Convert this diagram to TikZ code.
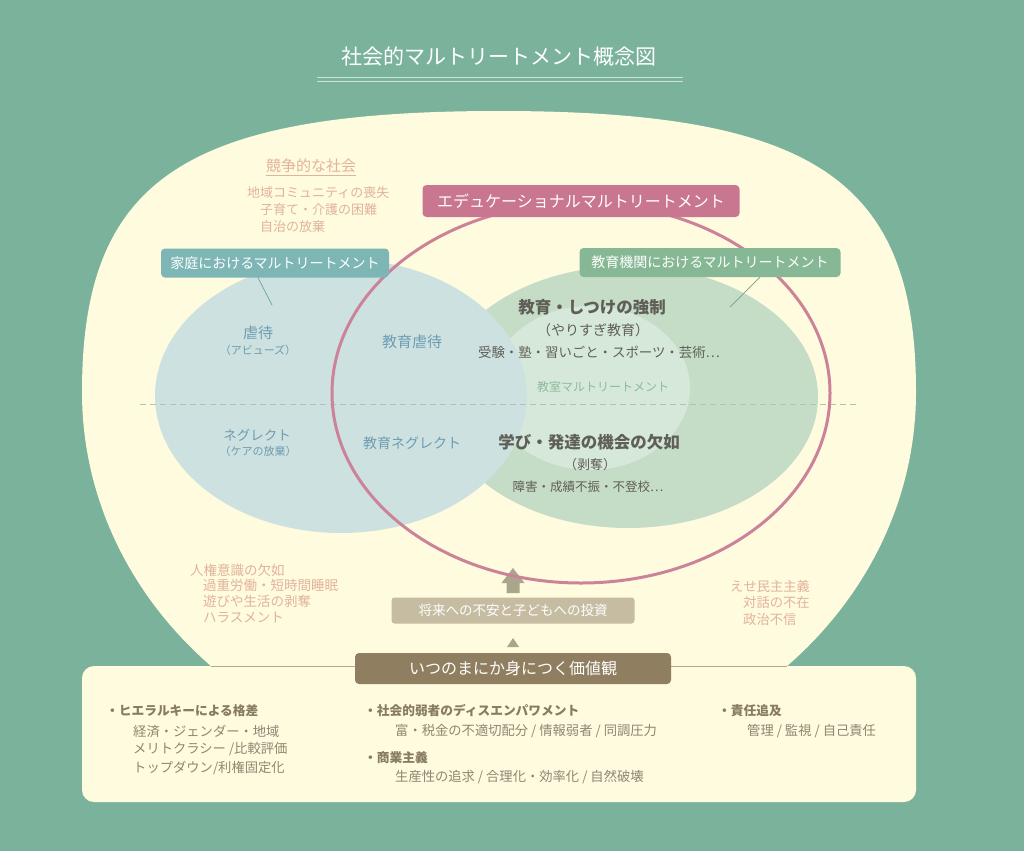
\documentclass[tikz,border=0pt]{standalone}
\usepackage{fontspec}
\setmainfont{Noto Sans CJK JP}
\definecolor{bgc}{HTML}{7AB29C}
\definecolor{cream}{HTML}{FEFBDF}
\definecolor{bluefill}{HTML}{CDE2E0}
\definecolor{greenfill}{HTML}{C5DCC7}
\definecolor{lightgreen}{HTML}{D6E8D9}
\definecolor{pinkline}{HTML}{CC8399}
\definecolor{teallab}{HTML}{7DB6B5}
\definecolor{pinklab}{HTML}{C97790}
\definecolor{greenlab}{HTML}{87B896}
\definecolor{salmon}{HTML}{E2B39B}
\definecolor{bluetext}{HTML}{6E9BB2}
\definecolor{darktext}{HTML}{5F5F57}
\definecolor{greentext}{HTML}{8DBB9C}
\definecolor{beigebox}{HTML}{C6BCA2}
\definecolor{brownbox}{HTML}{8F7E60}
\definecolor{arrowc}{HTML}{A9A68C}
\definecolor{headc}{HTML}{877B62}
\definecolor{subc}{HTML}{8E8773}
\definecolor{titleline}{HTML}{C9E3D5}
\definecolor{dashc}{HTML}{B9BEB4}
\definecolor{sepline}{HTML}{B3A88A}
\tikzset{
  fs/.style={font=\fontsize{#1}{#1}\selectfont},
  label box/.style={rounded corners=4pt, inner sep=0pt, text=white},
  plain/.style={inner sep=0pt},
  salmontext/.style={plain, text=salmon, fs=13.5, anchor=west},
  bluelab/.style={plain, text=bluetext},
  darklab/.style={plain, text=darktext},
  headtext/.style={plain, text=headc, anchor=west, font=\fontsize{12.7}{12.7}\selectfont\bfseries},
  subtext/.style={plain, text=subc, anchor=west, fs=13.3},
}
\begin{document}
\begin{tikzpicture}[x=1pt,y=-1pt]
\useasboundingbox (0,0) rectangle (1024,851);
\fill[bgc] (0,0) rectangle (1024,851);

% title
\node[plain, text=white, fs=21] (title) at (499,57) {社会的マルトリートメント概念図};
\draw[titleline, line width=0.8pt] (317,77.5) -- (683,77.5);
\draw[titleline, line width=0.8pt] (317,81) -- (683,81);

% big cream shape (squarish top, elliptic bottom)
\fill[cream] (82,392) .. controls (82,180) and (183.3,111) .. (499,111)
  .. controls (814.7,111) and (916,180) .. (916,392)
  .. controls (916,601.3) and (729.3,771) .. (499,771)
  .. controls (268.7,771) and (82,601.3) .. (82,392) -- cycle;

% bottom box
\fill[cream, rounded corners=12pt] (82,666) rectangle (916,802);
\draw[sepline, line width=0.7pt] (211,666) -- (787,666);

% ellipses
\fill[greenfill] (628,397) ellipse [x radius=190pt, y radius=131pt];
\fill[lightgreen] (590,388) ellipse [x radius=100pt, y radius=82pt];
\fill[bluefill] (341,396) ellipse [x radius=186pt, y radius=137pt];

\draw[dashc, line width=0.8pt, dash pattern=on 6pt off 4pt] (140,404) -- (858,404);

% big arrow
\fill[arrowc] (513,568) -- (524.5,583) -- (519.5,583) -- (519.5,593) -- (506.5,593) -- (506.5,583) -- (501.5,583) -- cycle;

% pink ellipse
\draw[pinkline, line width=3pt] (581,393) ellipse [x radius=249pt, y radius=190pt];

% society texts
\node[plain, text=salmon, fs=15] (kyoso) at (311,166) {競争的な社会};
\draw[salmon, line width=0.8pt] ([yshift=-2pt]kyoso.south west) -- ([yshift=-2pt]kyoso.south east);
\node[salmontext, fs=13] (s1) at (247,193) {地域コミュニティの喪失};
\node[salmontext, fs=13] (s2) at (260,210) {子育て・介護の困難};
\node[salmontext, fs=13] (s3) at (260,227) {自治の放棄};

\node[salmontext] (h1) at (190,570) {人権意識の欠如};
\node[salmontext] (h2) at (203,585) {過重労働・短時間睡眠};
\node[salmontext] (h3) at (203,601) {遊びや生活の剥奪};
\node[salmontext] (h4) at (203,618) {ハラスメント};

\node[salmontext, fs=13.3] (d1) at (730,586) {えせ民主主義};
\node[salmontext, fs=13.3] (d2) at (743,602) {対話の不在};
\node[salmontext, fs=13.3] (d3) at (743,619) {政治不信};

% labels
\node[label box, fill=teallab, minimum width=228pt, minimum height=29pt, fs=14] (famlabel) at (275,263) {家庭におけるマルトリートメント};
\node[label box, fill=pinklab, minimum width=317pt, minimum height=32pt, fs=16] (edumal) at (581,201) {エデュケーショナルマルトリートメント};
\node[label box, fill=greenlab, minimum width=261pt, minimum height=29pt, fs=14] (schlabel) at (710,262.5) {教育機関におけるマルトリートメント};
\coordinate (famtip) at (272,305);
\coordinate (schtip) at (730,307);
\draw[teallab!80!black!60!teallab, line width=0.7pt] ([xshift=-17pt]famlabel.south) -- (famtip);
\draw[greenlab!80!black!60!greenlab, line width=0.7pt] ([xshift=50pt]schlabel.south) -- (schtip);

% blue texts
\node[bluelab, fs=15] (gyaku) at (258,333) {虐待};
\node[bluelab, fs=11] (abuse) at (258,350) {（アビューズ）};
\node[bluelab, fs=15] (edugyaku) at (412,342) {教育虐待};
\node[bluelab, fs=13.5] (neglect) at (257,435) {ネグレクト};
\node[bluelab, fs=11] (care) at (258,451) {（ケアの放棄）};
\node[bluelab, fs=14] (eduneg) at (412,443) {教育ネグレクト};

% green texts
\node[darklab, font=\fontsize{16.5}{16.5}\selectfont\bfseries] (kyosei) at (592,307) {教育・しつけの強制};
\node[darklab, fs=14] (yari) at (593,330) {（やりすぎ教育）};
\node[darklab, fs=13.4] (juken) at (599,352) {受験・塾・習いごと・スポーツ・芸術…};
\node[plain, text=greentext, fs=12] (kyoshitsu) at (603,387) {教室マルトリートメント};
\node[darklab, font=\fontsize{16.5}{16.5}\selectfont\bfseries] (manabi) at (589,442) {学び・発達の機会の欠如};
\node[darklab, fs=13] (hakudatsu) at (590,465) {（剥奪）};
\node[darklab, fs=12.5] (shogai) at (588,487) {障害・成績不振・不登校…};

% value boxes
\node[label box, rounded corners=3pt, fill=beigebox, minimum width=243pt, minimum height=26pt, fs=13.5] (invest) at (513,610.5) {将来への不安と子どもへの投資};
\fill[arrowc] (507,647) -- (519,647) -- (513,638) -- cycle;
\node[label box, fill=brownbox, minimum width=316pt, minimum height=31pt, fs=16] (values) at (513,668.5) {いつのまにか身につく価値観};

% bottom texts
\node[headtext] (b1) at (106,711) {・ヒエラルキーによる格差};
\node[subtext] (b1a) at (133,731) {経済・ジェンダー・地域};
\node[subtext] (b1b) at (133,749) {メリトクラシー /比較評価};
\node[subtext] (b1c) at (133,768) {トップダウン/利権固定化};
\node[headtext] (b2) at (364,711) {・社会的弱者のディスエンパワメント};
\node[subtext] (b2a) at (395,731) {富・税金の不適切配分 / 情報弱者 / 同調圧力};
\node[headtext] (b3) at (364,758) {・商業主義};
\node[subtext] (b3a) at (395,777) {生産性の追求 / 合理化・効率化 / 自然破壊};
\node[headtext] (b4) at (718,711) {・責任追及};
\node[subtext] (b4a) at (747,731) {管理 / 監視 / 自己責任};
\end{tikzpicture}
\end{document}
